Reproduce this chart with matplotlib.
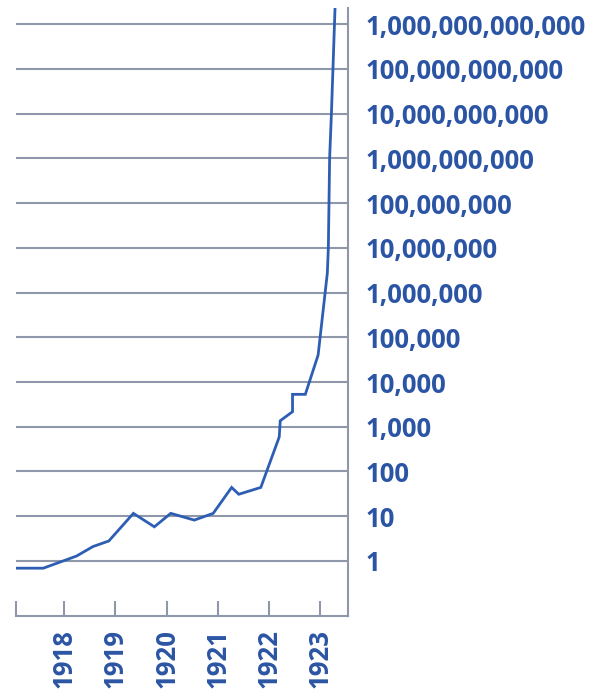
#!/usr/bin/env python3
"""Log-scale line chart of German hyperinflation, 1918-1923."""

import matplotlib
matplotlib.use("Agg")
import matplotlib.pyplot as plt
from matplotlib.ticker import FixedLocator, FuncFormatter

# decimal years and values
years = [1917.06, 1917.59, 1918.24, 1918.56, 1918.87, 1919.35, 1919.76,
         1920.08, 1920.54, 1920.91, 1921.27, 1921.41, 1921.84, 1922.20,
         1922.22, 1922.46, 1922.46, 1922.71, 1922.96, 1923.14, 1923.16,
         1923.185, 1923.22, 1923.25, 1923.29]
values = [0.69, 0.69, 1.29, 2.1, 2.8, 11.6, 5.8,
          11.6, 8.2, 11.6, 44, 31, 44, 590,
          1365, 2170, 5300, 5300, 4.0e4, 2.7e6, 1.0e7,
          1.0e9, 1.0e10, 1.0e11, 2.2e12]

year_ticks = [1918, 1919, 1920, 1921, 1922, 1923]
value_ticks = [10 ** k for k in range(0, 13)]

LINE = "#2e5eb3"
GRID = "#8e98aa"
TEXT = "#2b55a4"
FONT = "Open Sans"

fig = plt.figure(figsize=(5.99, 6.92), dpi=100)
ax = fig.add_axes([15.7 / 599, 76 / 692, 332.6 / 599, 608 / 692])

ax.plot(years, values, color=LINE, lw=2.0, solid_joinstyle="miter", zorder=3)

ax.set_yscale("log")
ax.set_xlim(1917.05, 1923.55)
ax.set_ylim(10 ** -1.23, 10 ** 12.36)

ax.yaxis.set_major_locator(FixedLocator(value_ticks))
ax.yaxis.set_minor_locator(FixedLocator([]))
ax.yaxis.set_major_formatter(FuncFormatter(lambda v, _: f"{int(round(v)):,}"))
ax.yaxis.tick_right()
ax.tick_params(axis="y", length=0, pad=12.5, labelsize=18.5, labelcolor=TEXT)
for v in value_ticks:
    ax.axhline(v, color=GRID, lw=1.5, zorder=1)

ax.set_xticks([1917.05] + year_ticks)
ax.set_xticklabels([""] + [str(y) for y in year_ticks], rotation=90,
                   va="top", ha="center")
ax.tick_params(axis="x", direction="in", length=11, width=1.5, color=GRID,
               pad=9.5, labelsize=18.5, labelcolor=TEXT)

for lab in ax.get_xticklabels() + ax.get_yticklabels():
    lab.set_fontfamily(FONT)
    lab.set_fontweight("bold")

for side in ("left", "top"):
    ax.spines[side].set_visible(False)
for side in ("right", "bottom"):
    ax.spines[side].set_color(GRID)
    ax.spines[side].set_linewidth(1.5)

fig.savefig("out.png", dpi=100)
